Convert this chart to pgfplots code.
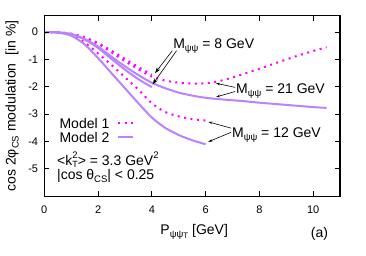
\documentclass[border=0pt]{standalone}
\usepackage{fontspec}
\setmainfont{Liberation Sans}
\usepackage{pgfplots}
\pgfplotsset{compat=1.18}
\usetikzlibrary{arrows.meta}
\definecolor{mag}{RGB}{255,0,255}
\definecolor{vio}{RGB}{185,130,255}
\newcommand\lab{\fontsize{14}{16}\selectfont}
\newcommand\sub[1]{\raisebox{-0.4ex}{\fontsize{9.5}{10}\selectfont #1}}
\newcommand\subk[1]{\raisebox{-0.2ex}{\fontsize{9}{10}\selectfont #1}}
\newcommand\sups[1]{\raisebox{0.95ex}{\fontsize{9.5}{10}\selectfont #1}}
\begin{document}
\begin{tikzpicture}
\useasboundingbox (0,0) rectangle (366pt,256pt);
\begin{axis}[
  at={(44.3pt,59.7pt)}, anchor=south west,
  scale only axis, width=295.7pt, height=180.6pt,
  xmin=0, xmax=11, ymin=-6, ymax=0.6,
  clip=false,
  axis line style={draw=none},
  tick style={draw=none},
  xtick={0,2,4,6,8,10}, xticklabels={0,2,4,6,8,10},
  ytick={-5,-4,-3,-2,-1,0}, yticklabels={-5,-4,-3,-2,-1,0},
  xticklabel style={font=\fontsize{11}{11}\selectfont, inner sep=0pt, anchor=north, yshift=-9.5pt},
  yticklabel style={font=\fontsize{11}{11}\selectfont, inner sep=0pt, anchor=east, xshift=-6pt},
  every axis y label/.style={at={(axis description cs:-0.109,0.5)}, rotate=90, anchor=center},
  every axis x label/.style={at={(axis description cs:0.381,-0.209)}, anchor=base west},
  ylabel={\lab cos 2φ\sub{CS} modulation\ \ [in \%]},
  xlabel={\lab P\sub{ψψ\raisebox{-0.35ex}{\fontsize{8}{8}\selectfont T}} [GeV]},
  legend style={draw=none, fill=none, at={(axis cs:0.56,-3.14)}, anchor=north west,
    font=\lab, row sep=4pt, column sep=8pt, inner sep=0pt,
    nodes={inner sep=0pt, text height=10pt, text depth=0pt}},
  legend cell align=left, legend plot pos=right,
  legend image code/.code={\draw[#1] (0pt,0pt) -- (15pt,0pt);},
]
\addlegendimage{mag, line width=2pt, dash pattern=on 2pt off 4.5pt}
\addlegendentry{Model 1}
\addlegendimage{vio, line width=2pt}
\addlegendentry{Model 2}
% Model 1, M = 21 GeV
\addplot[mag, line width=2pt, dash pattern=on 2pt off 4.5pt, smooth, forget plot] coordinates {
(0,0) (0.5,-0.01) (1,-0.06) (1.5,-0.2) (2,-0.43) (2.5,-0.74) (3,-1.06) (3.5,-1.36) (4,-1.62) (4.5,-1.77) (5,-1.85) (5.5,-1.88) (6,-1.87) (6.5,-1.79) (7,-1.66) (7.5,-1.5) (8,-1.34) (8.5,-1.17) (9,-1.0) (9.5,-0.84) (10,-0.69) (10.5,-0.55)};
% Model 1, M = 8 GeV
\addplot[mag, line width=2pt, dash pattern=on 2pt off 4.5pt, smooth, forget plot] coordinates {
(0,0) (0.5,-0.01) (1,-0.06) (1.5,-0.19) (2,-0.4) (2.5,-0.68) (3,-0.98) (3.5,-1.28) (4,-1.55)};
% Model 1, M = 12 GeV
\addplot[mag, line width=2pt, dash pattern=on 2pt off 4.5pt, smooth, forget plot] coordinates {
(0,0) (0.5,-0.01) (1,-0.1) (1.5,-0.38) (2,-0.78) (2.5,-1.2) (3,-1.65) (3.5,-2.1) (4,-2.6) (4.5,-2.92) (5,-3.08) (5.5,-3.18) (6,-3.23)};
% Model 2, M = 21 GeV
\addplot[vio, line width=2pt, smooth, forget plot] coordinates {
(0,0) (0.5,-0.01) (1,-0.07) (1.5,-0.25) (2,-0.53) (2.5,-0.9) (3,-1.25) (3.5,-1.57) (4,-1.85) (4.5,-2.05) (5,-2.21) (5.5,-2.32) (6,-2.4) (6.5,-2.45) (7,-2.49) (7.5,-2.53) (8,-2.58) (8.5,-2.62) (9,-2.66) (9.5,-2.7) (10,-2.74) (10.5,-2.77)};
% Model 2, M = 8 GeV
\addplot[vio, line width=2pt, smooth, forget plot] coordinates {
(0,0) (0.5,-0.01) (1,-0.08) (1.5,-0.27) (2,-0.58) (2.5,-0.98) (3,-1.37) (3.5,-1.72) (4,-2.01)};
% Model 2, M = 12 GeV
\addplot[vio, line width=2pt, smooth, forget plot] coordinates {
(0,0) (0.5,-0.02) (1,-0.13) (1.5,-0.45) (2,-0.95) (2.5,-1.5) (3,-2.05) (3.5,-2.6) (4,-3.12) (4.5,-3.5) (5,-3.76) (5.5,-3.95) (6,-4.1)};
% annotations
\node[anchor=base west, inner sep=0pt, font=\lab] at (axis cs:4.79,-0.61) {M\sub{ψψ} = 8 GeV};
\node[anchor=base west, inner sep=0pt, font=\lab] at (axis cs:7.13,-2.23) {M\sub{ψψ} = 21 GeV};
\node[anchor=base west, inner sep=0pt, font=\lab] at (axis cs:6.98,-3.85) {M\sub{ψψ} = 12 GeV};
\draw[black, line width=0.6pt, -{Stealth[length=6pt,width=4pt]}] (axis cs:4.76,-0.68) -- (axis cs:4.12,-1.50);
\draw[black, line width=0.6pt, -{Stealth[length=6pt,width=4pt]}] (axis cs:4.92,-0.68) -- (axis cs:4.03,-1.91);
\draw[black, line width=0.6pt, -{Stealth[length=4pt,width=2.5pt]}] (axis cs:7.10,-2.02) -- (axis cs:6.39,-1.87);
\draw[black, line width=0.6pt, -{Stealth[length=4pt,width=2.5pt]}] (axis cs:7.10,-2.17) -- (axis cs:6.39,-2.37);
\draw[black, line width=0.6pt, -{Stealth[length=4pt,width=2.5pt]}] (axis cs:6.95,-3.51) -- (axis cs:6.10,-3.28);
\draw[black, line width=0.6pt, -{Stealth[length=4pt,width=2.5pt]}] (axis cs:6.95,-3.66) -- (axis cs:6.10,-4.01);
\node[anchor=base west, inner sep=0pt, font=\lab] at (axis cs:0.47,-4.88) {<k\makebox[0pt][l]{\sups{2}}\subk{T}> = 3.3 GeV\sups{2}};
\node[anchor=base west, inner sep=0pt, font=\lab] at (axis cs:0.47,-5.37) {|cos θ\sub{CS}| < 0.25};
\node[anchor=base west, inner sep=0pt, font=\lab] at (axis cs:9.91,-7.49) {(a)};
\end{axis}
% frame and inward ticks (gnuplot style, mirrored)
\draw[black, line width=1.3pt] (44.3pt,59.7pt) rectangle (340pt,240.3pt);
\foreach \k in {2,4,6,8,10} {
  \draw[black, line width=1pt] ({44.3pt+\k*26.882pt},59.7pt) -- ++(0,5pt);
  \draw[black, line width=1pt] ({44.3pt+\k*26.882pt},240.3pt) -- ++(0,-5pt);
}
\foreach \v in {-5,-4,-3,-2,-1,0} {
  \draw[black, line width=1pt] (44.3pt,{59.7pt+(\v+6)*27.364pt}) -- ++(5pt,0);
  \draw[black, line width=1pt] (340pt,{59.7pt+(\v+6)*27.364pt}) -- ++(-5pt,0);
}
\end{tikzpicture}
\end{document}
